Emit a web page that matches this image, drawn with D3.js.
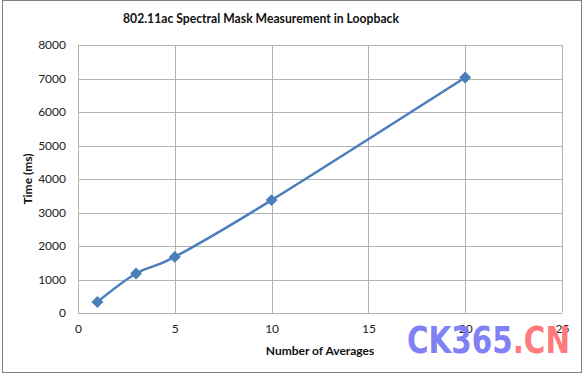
<!DOCTYPE html>
<html>
<head>
<meta charset="utf-8">
<script src="https://cdn.jsdelivr.net/npm/d3@7"></script>
<style>
  body { margin: 0; background: #fff; }
  #chart text { font-family: Lato, "Open Sans", sans-serif; }
</style>
</head>
<body>
<div id="chart"></div>
<script>
const averages = [1, 3, 5, 10, 20];
const timeMs = [330, 1180, 1675, 3370, 7030];
const xTicks = [0, 5, 10, 15, 20, 25];
const yTicks = [0, 1000, 2000, 3000, 4000, 5000, 6000, 7000, 8000];

let width = 584, height = 375;
let margin = {left: 78, top: 45, right: 22, bottom: 62};
let lineColor = "#4a7ebb";
let gridColor = "#b3b3b3";

let svg = d3.select("#chart")
  .append("svg")
  .attr("width", width)
  .attr("height", height);

/** OUTER BORDER */
svg.append("rect")
  .attr("x", 2.5).attr("y", 0.5)
  .attr("width", 579).attr("height", 372)
  .style("fill", "white")
  .style("stroke", "#7f7f7f");

/** SCALES */
let x = d3.scaleLinear().domain([0, 25]).range([margin.left, width - margin.right]);
let y = d3.scaleLinear().domain([0, 8000]).range([height - margin.bottom, margin.top]);

/** GRID */
let grid = svg.append("g");
grid.selectAll(".hgrid")
  .data(yTicks).enter()
  .append("line")
  .attr("x1", x(0)).attr("x2", x(25))
  .attr("y1", d => Math.round(y(d)) + 0.5).attr("y2", d => Math.round(y(d)) + 0.5)
  .style("stroke", gridColor);
grid.selectAll(".vgrid")
  .data(xTicks).enter()
  .append("line")
  .attr("y1", y(0)).attr("y2", y(8000))
  .attr("x1", d => Math.round(x(d)) + 0.5).attr("x2", d => Math.round(x(d)) + 0.5)
  .style("stroke", gridColor);

/** AXES */
let xAxis = svg.append("g")
  .attr("transform", `translate(0,${y(0)})`)
  .call(d3.axisBottom(x).tickValues(xTicks).tickSize(0).tickPadding(11));
let yAxis = svg.append("g")
  .attr("transform", `translate(${x(0)},0)`)
  .call(d3.axisLeft(y).tickValues(yTicks).tickSize(0).tickPadding(12).tickFormat(d3.format("d")));
[xAxis, yAxis].forEach(a => {
  a.select(".domain").remove();
  a.selectAll("text").style("font-size", "12px").style("fill", "#222");
});

/** LINE */
let line = d3.line()
  .x((d, i) => x(averages[i]))
  .y(d => y(d))
  .curve(d3.curveCatmullRom.alpha(0));
svg.append("path")
  .datum(timeMs)
  .attr("d", line)
  .style("fill", "none")
  .style("stroke", lineColor)
  .style("stroke-width", 2.5);

svg.append("g")
  .selectAll("path")
  .data(timeMs).enter()
  .append("path")
  .attr("d", d3.symbol().type(d3.symbolDiamond2).size(90))
  .attr("transform", (d, i) => `translate(${x(averages[i])},${y(d)})`)
  .style("fill", lineColor);

/** TITLES */
svg.append("text")
  .text("802.11ac Spectral Mask Measurement in Loopback")
  .attr("x", 261).attr("y", 23)
  .attr("text-anchor", "middle")
  .attr("textLength", 276).attr("lengthAdjust", "spacingAndGlyphs")
  .style("font-size", "13px").style("font-weight", "bold").style("fill", "#111");
svg.append("text")
  .text("Number of Averages")
  .attr("x", 320).attr("y", 355)
  .attr("text-anchor", "middle")
  .style("font-size", "12px").style("font-weight", "bold").style("fill", "#111");
svg.append("text")
  .text("Time (ms)")
  .attr("transform", "translate(32,179) rotate(-90)")
  .attr("text-anchor", "middle")
  .style("font-size", "12px").style("font-weight", "bold").style("fill", "#111");

/** WATERMARK */
let wm = svg.append("text")
  .attr("x", 407).attr("y", 353)
  .style("font-family", "'DejaVu Sans', sans-serif")
  .style("font-size", "38px").style("font-weight", "bold")
  .attr("textLength", 163).attr("lengthAdjust", "spacingAndGlyphs");
wm.append("tspan").text("CK365").style("fill", "#7b7bf5").style("opacity", 0.95);
wm.append("tspan").text(".CN").style("fill", "#ff7b7b");
</script>
</body>
</html>
